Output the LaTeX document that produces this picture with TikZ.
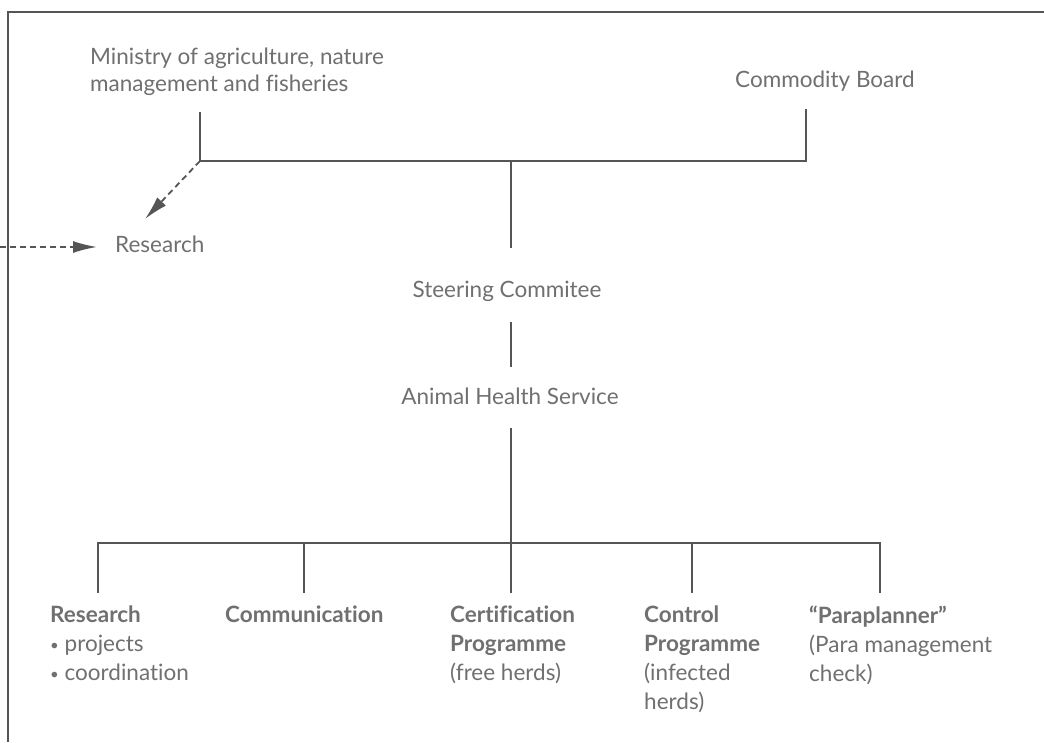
\documentclass[tikz,border=0pt]{standalone}
\usepackage{fontspec}
\setmainfont{Lato}[Ligatures=NoCommon]
\usetikzlibrary{arrows.meta}
\definecolor{txt}{HTML}{707070}
\definecolor{ln}{HTML}{555555}
\newcommand{\dotitem}{{\fontsize{15}{15}\selectfont\raisebox{1.5pt}{\textbullet}}\ }
\tikzset{
  lbl/.style={text=txt, inner sep=0pt, font=\fontsize{22.5}{27}\selectfont},
  unit/.style={text=txt, inner sep=0pt, align=left, font=\fontsize{22.5}{29}\selectfont},
  link/.style={draw=ln, line width=1.8pt},
  dashlink/.style={draw=ln, line width=1.8pt, dash pattern=on 6pt off 4pt,
    -{Latex[length=24pt,width=12pt]}},
}
\begin{document}
\begin{tikzpicture}[x=1pt,y=-1pt]
\useasboundingbox (0,0) rectangle (1044,742);
\fill[white] (0,0) rectangle (1044,742);
% frame
\draw[ln, line width=1.8pt] (8,742) -- (8,12) -- (1044,12);

% top level
\node[lbl, anchor=north west, align=left] (min) at (90,48)
  {Ministry of agriculture, nature\\management and fisheries};
\node[lbl, anchor=base west] (cb) at (735,87) {Commodity Board};
\node[lbl, anchor=base west] (res) at (115,252) {Research};
\node[lbl, anchor=base] (sc) at (507,297) {Steering Commitee};
\node[lbl, anchor=base] (ahs) at (510,404) {Animal Health Service};

% junction points
\coordinate (mtop) at (200,112);
\coordinate (mj) at (200,161);
\coordinate (ctop) at (806,109);
\coordinate (cj) at (806,161);
\coordinate (sj) at (511,161);
\coordinate (lin) at (0,247);

\draw[link] (mtop) -- (mj) -- (cj) -- (ctop);
\draw[link] (sj) -- (sj |- 0,248);
\draw[link] (511,322) -- (511,367);
\draw[link] (511,428) -- (511,543);
\draw[dashlink] (mj) -- (145,219);
\draw[dashlink] (lin) -- ([xshift=-18pt]res.west |- lin);

% bottom units
\node[unit, anchor=north west] (u1) at (50,606)
  {\textbf{Research}\\\dotitem projects\\\dotitem coordination};
\node[unit, anchor=north west] (u2) at (225,606) {\textbf{Communication}};
\node[unit, anchor=north west] (u3) at (450,606)
  {\textbf{Certification}\\\textbf{Programme}\\(free herds)};
\node[unit, anchor=north west] (u4) at (644,606)
  {\textbf{Control}\\\textbf{Programme}\\(infected\\herds)};
\node[unit, anchor=north west] (u5) at (809,606)
  {\textbf{“Paraplanner”}\\(Para management\\check)};

\draw[link] (98,593) -- (98,543) -- (880,543) -- (880,593);
\foreach \x in {304,511,692} \draw[link] (\x,543) -- (\x,593);
\end{tikzpicture}
\end{document}
